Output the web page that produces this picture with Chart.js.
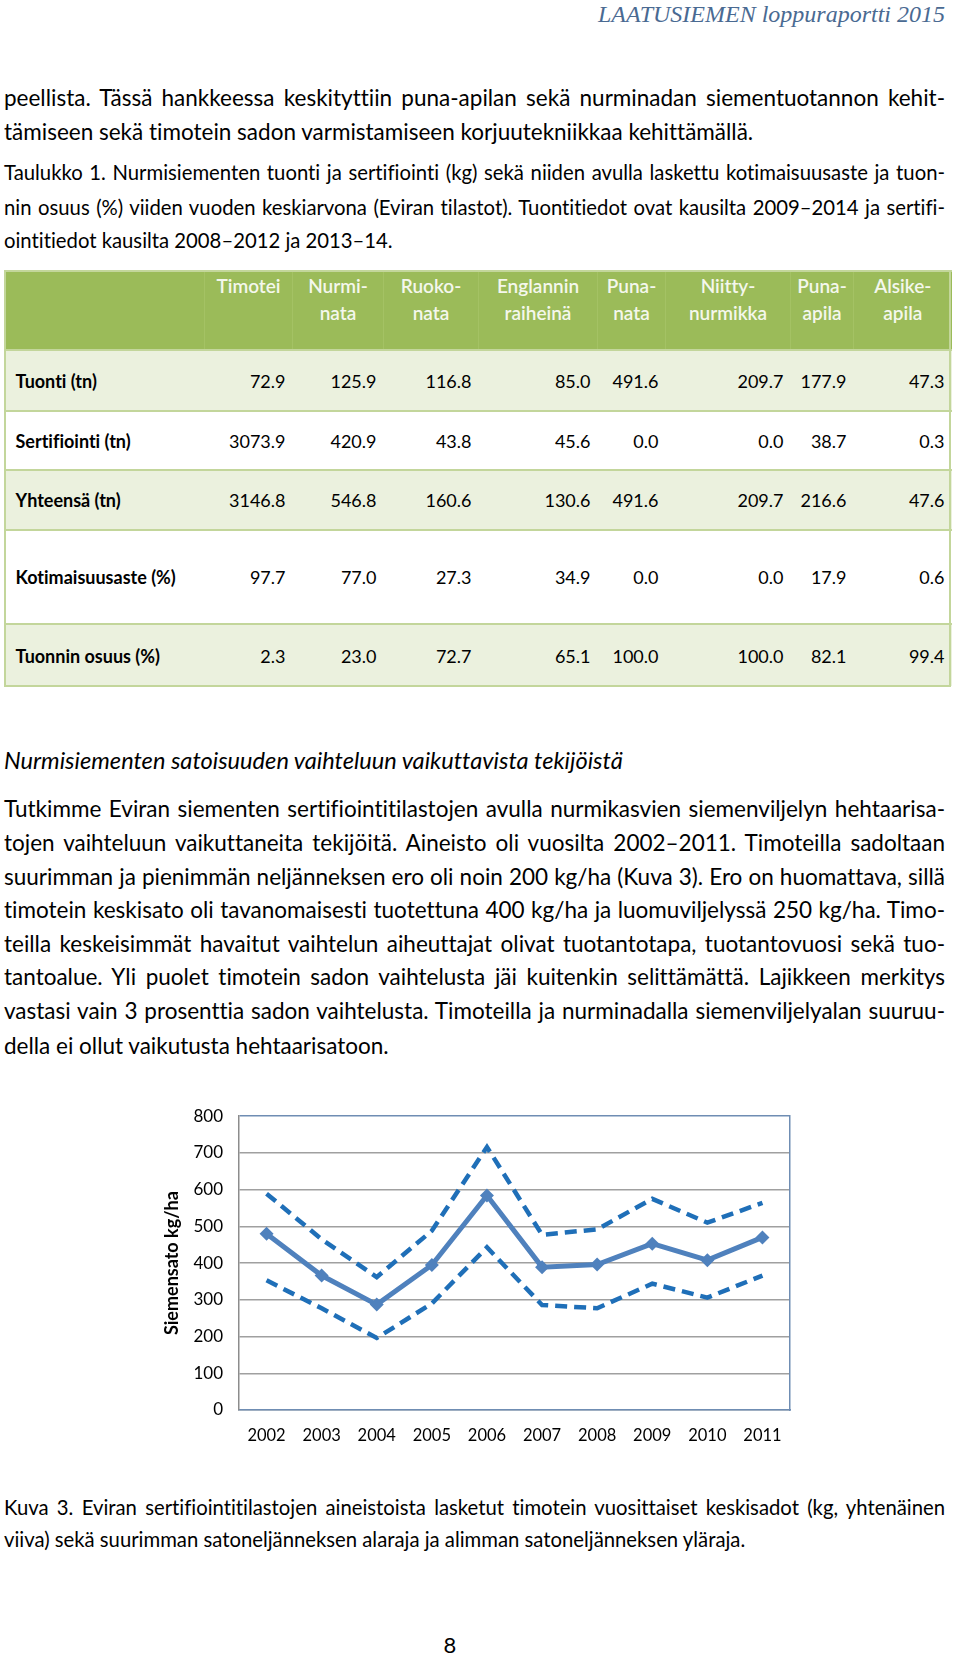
<!DOCTYPE html>
<html lang="fi">
<head>
<meta charset="utf-8">
<script src="https://cdn.jsdelivr.net/npm/chart.js@4.4.1/dist/chart.umd.min.js"></script>
<style>
  html, body { margin: 0; padding: 0; background: #fff; }
  body { width: 960px; height: 1658px; position: relative; overflow: hidden; font-family: Lato, "Noto Sans", sans-serif; color: #000;
         font-variant-ligatures: none; font-feature-settings: "liga" 0, "clig" 0; }
  .ln { position: absolute; left: 4px; white-space: nowrap; font-size: 22.5px; line-height: 28px; }
  .cap { font-size: 20.3px; line-height: 26px; }
  .hdr { position: absolute; right: 15px; top: 1px; font-family: "Liberation Serif", serif; font-style: italic; font-size: 24px; color: #4a6a92; }
  table { position: absolute; left: 4px; top: 270px; border-collapse: collapse; table-layout: fixed; width: 947px; font-size: 18px; }
  td { padding: 0 7px; border-top: 2px solid #c3d69b; text-align: right; }
  td:first-child { text-align: left; font-weight: bold; padding-left: 11px; }
  tr.head td { background: #9bbb59; color: #f4f7ec; font-weight: 600; font-size: 19px; text-align: center; vertical-align: top; line-height: 27px; padding: 0 2px; border-left: 1px solid #a4c264; }
  tr.shade td { background: #ebf1de; }
  tr.white td { background: #fff; }
  .frame { position: absolute; left: 4px; top: 270px; width: 943px; height: 413px; border: 2px solid #c3d69b; pointer-events: none; }
  #chartBox { position: absolute; left: 140px; top: 1090px; width: 680px; height: 370px; }
</style>
</head>
<body>
<div class="hdr">LAATUSIEMEN loppuraportti 2015</div>

<div class="ln j" style="top:84px">peellista. Tässä hankkeessa keskityttiin puna-apilan sekä nurminadan siementuotannon kehit-</div>
<div class="ln" style="top:118px">tämiseen sekä timotein sadon varmistamiseen korjuutekniikkaa kehittämällä.</div>

<div class="ln j cap" style="top:159px">Taulukko 1. Nurmisiementen tuonti ja sertifiointi (kg) sekä niiden avulla laskettu kotimaisuusaste ja tuon-</div>
<div class="ln j cap" style="top:194px">nin osuus (%) viiden vuoden keskiarvona (Eviran tilastot). Tuontitiedot ovat kausilta 2009–2014 ja sertifi-</div>
<div class="ln cap" style="top:227px">ointitiedot kausilta 2008–2012 ja 2013–14.</div>

<table id="tbl"></table>
<div class="frame"></div>

<div class="ln" style="top:746px;font-style:italic;font-size:23.6px">Nurmisiementen satoisuuden vaihteluun vaikuttavista tekijöistä</div>

<div class="ln j" style="top:795px">Tutkimme Eviran siementen sertifiointitilastojen avulla nurmikasvien siemenviljelyn hehtaarisa-</div>
<div class="ln j" style="top:829px">tojen vaihteluun vaikuttaneita tekijöitä. Aineisto oli vuosilta 2002–2011. Timoteilla sadoltaan</div>
<div class="ln j" style="top:863px">suurimman ja pienimmän neljänneksen ero oli noin 200 kg/ha (Kuva 3). Ero on huomattava, sillä</div>
<div class="ln j" style="top:896px">timotein keskisato oli tavanomaisesti tuotettuna 400 kg/ha ja luomuviljelyssä 250 kg/ha. Timo-</div>
<div class="ln j" style="top:930px">teilla keskeisimmät havaitut vaihtelun aiheuttajat olivat tuotantotapa, tuotantovuosi sekä tuo-</div>
<div class="ln j" style="top:963px">tantoalue. Yli puolet timotein sadon vaihtelusta jäi kuitenkin selittämättä. Lajikkeen merkitys</div>
<div class="ln j" style="top:997px">vastasi vain 3 prosenttia sadon vaihtelusta. Timoteilla ja nurminadalla siemenviljelyalan suuruu-</div>
<div class="ln" style="top:1032px">della ei ollut vaikutusta hehtaarisatoon.</div>

<div id="chartBox"><canvas id="chart-yield" width="680" height="370"></canvas></div>

<div class="ln j cap" style="top:1494px">Kuva 3. Eviran sertifiointitilastojen aineistoista lasketut timotein vuosittaiset keskisadot (kg, yhtenäinen</div>
<div class="ln cap" style="top:1526px">viiva) sekä suurimman satoneljänneksen alaraja ja alimman satoneljänneksen yläraja.</div>

<div style="position:absolute;left:435px;top:1631px;width:30px;text-align:center;font-size:22px">8</div>

<script>
// --- table data (Taulukko 1)
const SPECIES = ['Timotei','Nurmi-<br>nata','Ruoko-<br>nata','Englannin<br>raiheinä','Puna-<br>nata','Niitty-<br>nurmikka','Puna-<br>apila','Alsike-<br>apila'];
const COL_WIDTHS = [200, 88, 91, 95, 119, 68, 125, 63, 98];
const ROW_LABELS = ['Tuonti (tn)','Sertifiointi (tn)','Yhteensä (tn)','Kotimaisuusaste (%)','Tuonnin osuus (%)'];
const tuonti       = ['72.9','125.9','116.8','85.0','491.6','209.7','177.9','47.3'];
const sertifiointi = ['3073.9','420.9','43.8','45.6','0.0','0.0','38.7','0.3'];
const yhteensa     = ['3146.8','546.8','160.6','130.6','491.6','209.7','216.6','47.6'];
const kotimaisuus  = ['97.7','77.0','27.3','34.9','0.0','0.0','17.9','0.6'];
const tuonninOsuus = ['2.3','23.0','72.7','65.1','100.0','100.0','82.1','99.4'];
const ROW_HEIGHTS = [61, 59, 60, 94, 62];

// --- chart data (Kuva 3)
const years          = ['2002','2003','2004','2005','2006','2007','2008','2009','2010','2011'];
const meanYield      = [480, 366, 287, 395, 584, 389, 396, 453, 408, 470];
const upperQuartile  = [589, 465, 362, 488, 716, 477, 492, 575, 510, 564];
const lowerQuartile  = [353, 277, 196, 290, 443, 286, 277, 344, 306, 366];

const LINE_WIDTH = 941;

// justify single lines by spreading word spacing (never wraps)
function justifyLines() {
  document.querySelectorAll('.ln.j').forEach(el => {
    el.style.wordSpacing = '0px';
    const natural = el.getBoundingClientRect().width;
    const gaps = (el.textContent.match(/ /g) || []).length;
    if (gaps) el.style.wordSpacing = ((LINE_WIDTH - natural) / gaps) + 'px';
  });
}

function buildTable() {
  const t = document.getElementById('tbl');
  const rows = [tuonti, sertifiointi, yhteensa, kotimaisuus, tuonninOsuus];
  let html = '<colgroup>' + COL_WIDTHS.map(w => `<col style="width:${w}px">`).join('') + '</colgroup>';
  html += '<tr class="head" style="height:79px"><td></td>' + SPECIES.map(s => `<td>${s}</td>`).join('') + '</tr>';
  rows.forEach((vals, i) => {
    html += `<tr class="${i % 2 ? 'white' : 'shade'}" style="height:${ROW_HEIGHTS[i]}px"><td>${ROW_LABELS[i]}</td>`
      + vals.map(v => `<td>${v}</td>`).join('') + '</tr>';
  });
  t.innerHTML = html;
}
buildTable();
justifyLines();
if (document.fonts) document.fonts.ready.then(justifyLines);

const FRAME = '#6f8db3';
new Chart(document.getElementById('chart-yield'), {
  type: 'line',
  data: {
    labels: years,
    datasets: [
      { data: upperQuartile, borderColor: '#1f6fb8', borderWidth: 4.5, borderDash: [12, 7], pointRadius: 0, tension: 0, fill: false },
      { data: lowerQuartile, borderColor: '#1f6fb8', borderWidth: 4.5, borderDash: [12, 7], pointRadius: 0, tension: 0, fill: false },
      { data: meanYield, borderColor: '#4f81bd', backgroundColor: '#4f81bd', borderWidth: 5, pointStyle: 'rectRot', pointRadius: 7, pointBorderWidth: 0, tension: 0, fill: false },
    ],
  },
  options: {
    responsive: false,
    animation: false,
    devicePixelRatio: 1,
    layout: { padding: { left: 0, right: 30, top: 24, bottom: 0 } },
    plugins: { legend: { display: false }, tooltip: { enabled: false } },
    scales: {
      x: {
        offset: true,
        grid: { display: false, drawTicks: false },
        border: { color: FRAME, width: 1.5 },
        ticks: { color: '#000', padding: 16, font: { family: 'Lato', size: 16.5 }, maxRotation: 0 },
        afterFit: s => { s.height = 50; },
      },
      y: {
        min: 0, max: 800,
        ticks: { stepSize: 100, color: '#000', padding: 16, font: { family: 'Lato', size: 17 } },
        grid: { drawTicks: false, lineWidth: 1.5, color: c => c.tick.value === 800 ? FRAME : '#a0a0a0' },
        border: { color: '#8c8c8c', width: 1.5 },
        title: { display: true, text: 'Siemensato kg/ha', color: '#000', font: { family: 'Lato', size: 18, weight: 'bold' }, padding: { top: 21, bottom: 0 } },
        afterFit: s => { s.width = 99; },
      },
      yRight: {
        position: 'right', min: 0, max: 800,
        grid: { display: false, drawTicks: false },
        ticks: { display: false },
        border: { color: FRAME, width: 1.5 },
        afterFit: s => { s.width = 0; },
      },
    },
  },
});
</script>
</body>
</html>
